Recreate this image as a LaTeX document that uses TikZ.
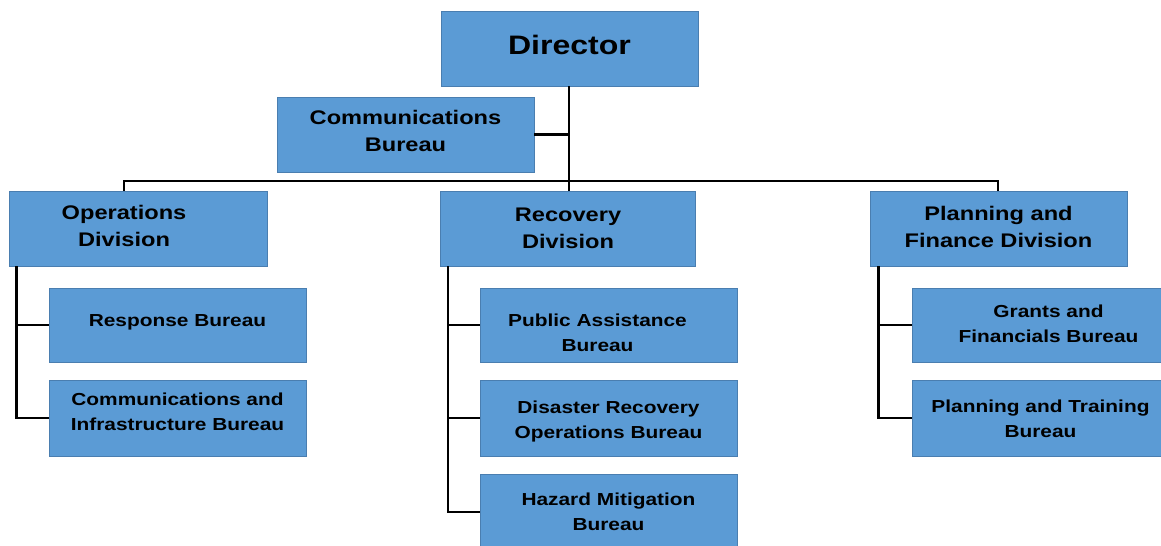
\documentclass[tikz,border=0pt]{standalone}
\usepackage{fontspec}
\setmainfont{Liberation Sans}[FakeStretch=1.2]
\usepackage{tikz}
\usetikzlibrary{calc}
\definecolor{boxblue}{HTML}{5B9BD5}
\definecolor{boxedge}{HTML}{4A7EB0}
% text of a box, moved by (#1/2, #2) inside it
\newcommand{\boxtext}[3]{\hspace*{#1}\raisebox{#2}[\height][\depth]{\begin{tabular}{@{}c@{}}#3\end{tabular}}}
\tikzset{
	unit/.style={draw=boxedge, fill=boxblue, line width=0.5pt, minimum width=5.14cm, minimum height=1.5cm, inner sep=0pt, font=\fontsize{9.9}{14.2}\selectfont\bfseries},
	division/.style={unit, font=\fontsize{11.2}{15.3}\selectfont\bfseries},
	wire/.style={line width=1.6pt, color=black}
}

\begin{document}
\begin{tikzpicture}[x=0.02cm, y=-0.02cm]
			%%%%% START %%%%%
			\useasboundingbox (0, 0) rectangle (1161, 546);
			
			\node[division, font=\fontsize{15.2}{18}\selectfont\bfseries] (dir) at (569.5, 48.5) {\boxtext{0pt}{0pt}{Director}};
			\node[division] (com) at (405.5, 134.5) {\boxtext{0pt}{0.9pt}{Communications\\Bureau}};
			
			\node[division, minimum width=5.16cm] (ops) at (138, 228.5) {\boxtext{-15.9pt}{0.6pt}{Operations\\Division}};
			\node[division, minimum width=5.1cm] (rec) at (568, 228.5) {\boxtext{0pt}{-0.8pt}{Recovery\\Division}};
			\node[division] (pfd) at (998.5, 228.5) {\boxtext{0pt}{0pt}{Planning and\\Finance Division}};
			
			\node[unit, minimum height=1.48cm] (resp) at (177.5, 325) {\boxtext{0pt}{1.7pt}{Response Bureau}};
			\node[unit, minimum height=1.52cm] (cib) at (177.5, 418) {\boxtext{0pt}{2.8pt}{Communications and\\Infrastructure Bureau}};
			
			\node[unit, minimum height=1.48cm] (pub) at (608.5, 325) {\boxtext{-12.5pt}{-5.1pt}{Public Assistance\\Bureau}};
			\node[unit, minimum height=1.52cm] (dis) at (608.5, 418) {\boxtext{0pt}{-1.7pt}{Disaster Recovery\\Operations Bureau}};
			\node[unit, minimum height=1.52cm] (haz) at (608.5, 512) {\boxtext{0pt}{-0.8pt}{Hazard Mitigation\\Bureau}};
			
			\node[unit, minimum height=1.48cm] (grt) at (1040.5, 325) {\boxtext{9.1pt}{0pt}{Grants and\\Financials Bureau}};
			\node[unit, minimum height=1.52cm] (plt) at (1040.5, 418) {\boxtext{0pt}{-1.1pt}{Planning and Training\\Bureau}};
			
			% top of the tree
			\coordinate (busL) at (124, 181);
			\coordinate (busR) at (998, 181);
			\draw[wire] (dir.south -| 569, 0) -- (rec.north -| 569, 0);
			\draw[wire] (com.east) -- (com.east -| 569, 0);
			\draw[wire] (busL |- ops.north) -- (busL) -- (busR) -- (busR |- pfd.north);
			
			% branches under the divisions
			\draw[wire] (ops.south west) ++(8, 0) |- (resp.west);
			\draw[wire] (ops.south west) ++(8, 0) |- (cib.west);
			
			\draw[wire] (rec.south west) ++(8, 0) |- (pub.west);
			\draw[wire] (rec.south west) ++(8, 0) |- (dis.west);
			\draw[wire] (rec.south west) ++(8, 0) |- (haz.west);
			
			\draw[wire] (pfd.south west) ++(9, 0) |- (grt.west);
			\draw[wire] (pfd.south west) ++(9, 0) |- (plt.west);
			
			%%%%% END %%%%%
		\end{tikzpicture}
\end{document}
